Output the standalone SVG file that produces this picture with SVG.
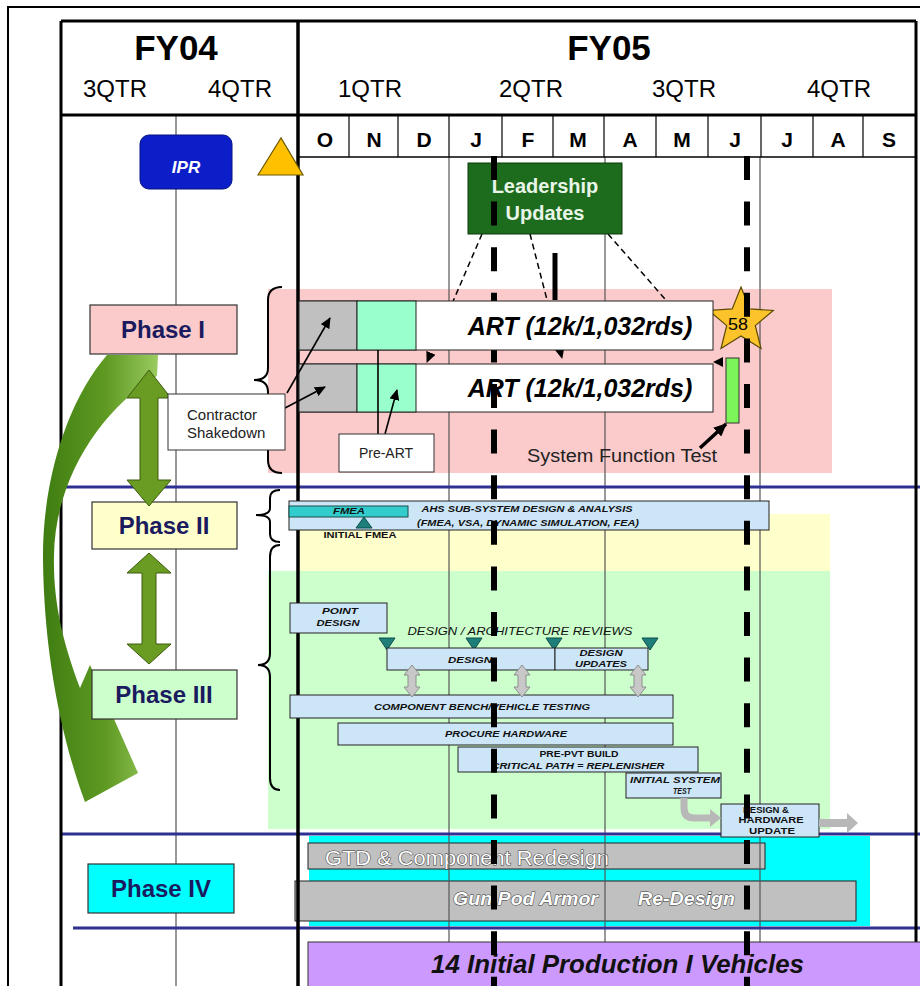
<svg xmlns="http://www.w3.org/2000/svg" width="920" height="986" viewBox="0 0 920 986">
<style>
text { font-family: "Liberation Sans", Arial, sans-serif; fill: #000; }
.fy { font-size: 35px; font-weight: bold; text-anchor: middle; }
.qtr { font-size: 24px; text-anchor: middle; }
.mon { font-size: 21px; font-weight: bold; text-anchor: middle; }
.phase { font-size: 24px; font-weight: bold; fill: #1a1a5e; text-anchor: middle; }
.tiny { font-size: 9px; font-style: italic; font-weight: bold; text-anchor: middle; fill: #111; }
.tinyu { font-size: 9px; font-weight: bold; text-anchor: middle; fill: #111; }
.art { font-size: 25px; font-weight: bold; font-style: italic; text-anchor: middle; }
.lbl { font-size: 15px; fill: #222; }
.bar { fill: #cce6f8; stroke: #222; stroke-width: 1; }
.grayb { fill: #c0c0c0; stroke: #222; stroke-width: 1; }
.thin { stroke: #555; stroke-width: 1.2; }
.thick { stroke: #000; stroke-width: 3; }
.blue { stroke: #2e3192; stroke-width: 3; }
.dash { stroke: #000; stroke-width: 6; stroke-dasharray: 24 21.6; }
.garrow { fill: #6a9c23; stroke: #3d5c10; stroke-width: 1; }
.gray2 { fill: #c8c8c8; stroke: #8e8e8e; stroke-width: 1; }
.tri { fill: #1e7f7a; stroke: #0d4d4a; stroke-width: 1; }
.emb { fill: #fff; stroke: #3a3a3a; stroke-width: 1; paint-order: stroke; }
.conn { stroke: #000; stroke-width: 1.6; fill: none; }
.dconn { stroke: #000; stroke-width: 1.5; fill: none; stroke-dasharray: 6 4; }
.brace { stroke: #000; stroke-width: 2; fill: none; }
</style>
<defs>
<marker id="ah" markerUnits="userSpaceOnUse" markerWidth="11" markerHeight="10" refX="10" refY="5" orient="auto">
<path d="M0,0 L11,5 L0,10 z" fill="#000"/>
</marker>
<marker id="ahb" markerUnits="userSpaceOnUse" markerWidth="13" markerHeight="12" refX="12" refY="6" orient="auto">
<path d="M0,0 L13,6 L0,12 z" fill="#000"/>
</marker>
<linearGradient id="cg" x1="0" y1="0" x2="1" y2="0">
<stop offset="0" stop-color="#3f7d12"/>
<stop offset="0.55" stop-color="#5f9a22"/>
<stop offset="1" stop-color="#9acb60"/>
</linearGradient>
</defs>

<rect x="0" y="0" width="920" height="986" fill="#fff"/>
<path d="M8,986 L8,7 L920,7" fill="none" stroke="#000" stroke-width="2"/>

<g id="backgrounds">
<rect x="268" y="289" width="564" height="184" fill="#fbcaca"/>
<rect x="298" y="514" width="532" height="57" fill="#ffffcc"/>
<rect x="268" y="571" width="562" height="258" fill="#ccffcc"/>
<rect x="309" y="836" width="561" height="90" fill="#00ffff"/>
</g>

<g id="gtd-redesign">
<rect x="308" y="843" width="457" height="26" class="grayb"/>
<text x="325" y="865" font-size="20" textLength="284" lengthAdjust="spacingAndGlyphs" class="emb">GTD &amp;  Component Redesign</text>
</g>
<g id="gun-pod">
<rect x="295" y="881" width="561" height="40" class="grayb"/>
<text y="905" font-size="19" font-weight="bold" font-style="italic" class="emb"><tspan x="453" textLength="145" lengthAdjust="spacingAndGlyphs">Gun Pod Armor</tspan><tspan x="638" textLength="97" lengthAdjust="spacingAndGlyphs">Re-Design</tspan></text>
</g>

<g id="grid">
<line x1="176" y1="115" x2="176" y2="986" class="thin"/>
<line x1="449" y1="157" x2="449" y2="986" class="thin"/>
<line x1="605" y1="157" x2="605" y2="986" class="thin"/>
<line x1="760" y1="157" x2="760" y2="986" class="thin"/>
<line x1="61" y1="21" x2="916" y2="21" class="thick"/>
<line x1="61" y1="115" x2="916" y2="115" class="thick"/>
<line x1="298" y1="157" x2="916" y2="157" stroke="#000" stroke-width="1.5"/>
<g stroke="#000" stroke-width="1.2">
<line x1="349" y1="115" x2="349" y2="157"/>
<line x1="398" y1="115" x2="398" y2="157"/>
<line x1="449" y1="115" x2="449" y2="157"/>
<line x1="502" y1="115" x2="502" y2="157"/>
<line x1="553" y1="115" x2="553" y2="157"/>
<line x1="604" y1="115" x2="604" y2="157"/>
<line x1="656" y1="115" x2="656" y2="157"/>
<line x1="708" y1="115" x2="708" y2="157"/>
<line x1="761" y1="115" x2="761" y2="157"/>
<line x1="813" y1="115" x2="813" y2="157"/>
<line x1="863" y1="115" x2="863" y2="157"/>
</g>
<line x1="65" y1="487" x2="920" y2="487" class="blue"/>
<line x1="61" y1="834" x2="920" y2="834" class="blue"/>
<line x1="73" y1="928" x2="920" y2="928" class="blue"/>
<line x1="61" y1="21" x2="61" y2="986" class="thick"/>
<line x1="298" y1="21" x2="298" y2="986" stroke="#000" stroke-width="3.5"/>
<line x1="916" y1="21" x2="916" y2="986" class="thick"/>
</g>

<g id="header">
<text x="176" y="60" class="fy">FY04</text>
<text x="609" y="60" class="fy">FY05</text>
<text x="115" y="97" class="qtr">3QTR</text>
<text x="240" y="97" class="qtr">4QTR</text>
<text x="370" y="97" class="qtr">1QTR</text>
<text x="531" y="97" class="qtr">2QTR</text>
<text x="684" y="97" class="qtr">3QTR</text>
<text x="839" y="97" class="qtr">4QTR</text>
<text x="325" y="147" class="mon">O</text>
<text x="374" y="147" class="mon">N</text>
<text x="424" y="147" class="mon">D</text>
<text x="476" y="147" class="mon">J</text>
<text x="528" y="147" class="mon">F</text>
<text x="578" y="147" class="mon">M</text>
<text x="630" y="147" class="mon">A</text>
<text x="682" y="147" class="mon">M</text>
<text x="735" y="147" class="mon">J</text>
<text x="787" y="147" class="mon">J</text>
<text x="838" y="147" class="mon">A</text>
<text x="889" y="147" class="mon">S</text>
</g>

<g id="braces">
<path class="brace" d="M282,287 Q268,287 268,300 L268,368 Q268,380 254,380 Q268,380 268,392 L268,460 Q268,473 282,473"/>
<path class="brace" d="M280,490 Q270,490 270,498 L270,508 Q270,515 256,515 Q270,515 270,522 L270,534 Q270,542 280,542"/>
<path class="brace" d="M280,545 Q270,545 270,557 L270,653 Q270,665 258,665 Q270,665 270,677 L270,778 Q270,790 280,790"/>
</g>

<g id="ipr">
<rect x="140" y="135" width="92" height="54" rx="9" fill="#0b1ec8" stroke="#061080"/>
<text x="186" y="173" font-size="17" font-weight="bold" font-style="italic" text-anchor="middle" style="fill:#fff">IPR</text>
</g>
<g id="ipr-milestone">
<polygon points="258,175 281,138 303,175" fill="#ffc000" stroke="#6b5a00" stroke-width="1.2"/>
</g>

<g id="cycle-arrow">
<path d="M107,355 C68,400 42,480 43,560 C44,650 60,735 85,802 L138,773 L90,665 L80,688 C62,640 53,600 54,555 C55,480 100,410 157,376 L158,355 Z" fill="url(#cg)"/>
</g>

<g id="phase1">
<rect x="90" y="305" width="147" height="49" fill="#fbcaca" stroke="#333" stroke-width="1.2"/>
<text x="163" y="338" class="phase">Phase I</text>
</g>
<g id="phase2">
<rect x="92" y="502" width="145" height="47" fill="#ffffcc" stroke="#333" stroke-width="1.2"/>
<text x="164" y="534" class="phase">Phase II</text>
</g>
<g id="phase3">
<rect x="92" y="670" width="145" height="49" fill="#ccffcc" stroke="#333" stroke-width="1.2"/>
<text x="164" y="703" class="phase">Phase III</text>
</g>
<g id="phase4">
<rect x="88" y="864" width="146" height="49" fill="#00ffff" stroke="#333" stroke-width="1.2"/>
<text x="161" y="897" class="phase">Phase IV</text>
</g>
<g id="phase-arrows">
<polygon class="garrow" points="149,370 171,398 158,398 158,480 171,480 149,506 127,480 140,480 140,398 127,398"/>
<polygon class="garrow" points="149,553 171,573 156,573 156,644 171,644 149,664 127,644 142,644 142,573 127,573"/>
</g>

<g id="connectors-back">
<line x1="482" y1="234" x2="427" y2="362" class="dconn" marker-end="url(#ah)"/>
<line x1="530" y1="234" x2="562" y2="358" class="dconn" marker-end="url(#ah)"/>
<line x1="608" y1="234" x2="665" y2="299" class="dconn"/>
</g>

<g id="leadership">
<rect x="468" y="163" width="154" height="71" fill="#1d6b1d" stroke="#0a3a0a"/>
<text x="545" y="193" font-size="20" font-weight="bold" text-anchor="middle" style="fill:#e8f5e8">Leadership</text>
<text x="545" y="220" font-size="20" font-weight="bold" text-anchor="middle" style="fill:#e8f5e8">Updates</text>
</g>

<g id="art2">
<rect x="299" y="364" width="414" height="48" fill="#fff" stroke="#222"/>
<rect x="299" y="364" width="58" height="48" fill="#c0c0c0" stroke="#222"/>
<rect x="357" y="364" width="59" height="48" fill="#99ffcc" stroke="#222"/>
<text x="580" y="397" class="art">ART (12k/1,032rds)</text>
</g>
<g id="sft-bar">
<rect x="726" y="358" width="13" height="65" fill="#7cf55a" stroke="#333"/>
</g>
<g id="star-58">
<polygon points="741,287 749.8,308.9 773.3,310.5 755.3,325.6 761,348.5 741,336 721,348.5 726.7,325.6 708.7,310.5 732.2,308.9" fill="#fcc42a" stroke="#5a4a00" stroke-width="1.2"/>
<text x="738" y="330" font-size="17" text-anchor="middle" textLength="20" lengthAdjust="spacingAndGlyphs">58</text>
</g>

<g id="ahs-design">
<rect x="289" y="501" width="480" height="29" class="bar"/>
<rect x="289" y="506" width="119" height="11" fill="#33cccc" stroke="#1a4a4a"/>
<text x="349" y="514" class="tiny" textLength="32" lengthAdjust="spacingAndGlyphs">FMEA</text>
<polygon class="tri" points="356,528 364,517 372,528"/>
<text x="360" y="538" class="tinyu" textLength="73" lengthAdjust="spacingAndGlyphs">INITIAL FMEA</text>
<text x="527" y="512" class="tiny" textLength="211" lengthAdjust="spacingAndGlyphs">AHS SUB-SYSTEM DESIGN &amp; ANALYSIS</text>
<text x="528" y="526" class="tiny" textLength="222" lengthAdjust="spacingAndGlyphs">(FMEA, VSA, DYNAMIC SIMULATION, FEA)</text>
</g>

<g id="point-design">
<rect x="290" y="603" width="97" height="30" class="bar"/>
<text x="340" y="614" class="tiny" textLength="36" lengthAdjust="spacingAndGlyphs">POINT</text>
<text x="338" y="626" class="tiny" textLength="43" lengthAdjust="spacingAndGlyphs">DESIGN</text>
</g>
<g id="reviews">
<text x="520" y="635" class="tiny" style="font-size:11px;font-weight:normal" textLength="225" lengthAdjust="spacingAndGlyphs">DESIGN / ARCHITECTURE REVIEWS</text>
<polygon class="tri" points="379,638 395,638 387,650"/>
<polygon class="tri" points="466,638 482,638 474,650"/>
<polygon class="tri" points="546,638 562,638 554,650"/>
<polygon class="tri" points="642,638 658,638 650,650"/>
</g>
<g id="design">
<rect x="387" y="648" width="168" height="22" class="bar"/>
<text x="470" y="663" class="tiny" textLength="44" lengthAdjust="spacingAndGlyphs">DESIGN</text>
</g>
<g id="design-updates">
<rect x="555" y="648" width="93" height="22" class="bar"/>
<text x="601" y="656" class="tiny" textLength="43" lengthAdjust="spacingAndGlyphs">DESIGN</text>
<text x="601" y="667" class="tiny" textLength="52" lengthAdjust="spacingAndGlyphs">UPDATES</text>
</g>
<g id="component-testing">
<rect x="290" y="695" width="383" height="23" class="bar"/>
<text x="482" y="710" class="tiny" textLength="216" lengthAdjust="spacingAndGlyphs">COMPONENT BENCH/VEHICLE TESTING</text>
</g>
<g id="procure-hardware">
<rect x="338" y="723" width="335" height="22" class="bar"/>
<text x="506" y="737" class="tiny" textLength="122" lengthAdjust="spacingAndGlyphs">PROCURE HARDWARE</text>
</g>
<g id="pre-pvt-build">
<rect x="458" y="747" width="240" height="25" class="bar"/>
<text x="579" y="757" class="tinyu" textLength="79" lengthAdjust="spacingAndGlyphs">PRE-PVT BUILD</text>
<text x="578" y="769" class="tiny" textLength="173" lengthAdjust="spacingAndGlyphs">CRITICAL PATH = REPLENISHER</text>
</g>
<g id="initial-system-test">
<rect x="626" y="773" width="95" height="25" class="bar"/>
<text x="675" y="783" class="tiny" textLength="90" lengthAdjust="spacingAndGlyphs">INITIAL SYSTEM</text>
<text x="682" y="794" class="tiny" textLength="18" lengthAdjust="spacingAndGlyphs">TEST</text>
</g>
<g id="design-hardware-update">
<rect x="721" y="804" width="98" height="33" class="bar"/>
<text x="766" y="813" class="tinyu" textLength="46" lengthAdjust="spacingAndGlyphs">DESIGN &amp;</text>
<text x="771" y="823" class="tinyu" textLength="65" lengthAdjust="spacingAndGlyphs">HARDWARE</text>
<text x="772" y="834" class="tinyu" textLength="46" lengthAdjust="spacingAndGlyphs">UPDATE</text>
</g>

<g id="production">
<rect x="308" y="942" width="620" height="50" fill="#cc99ff" stroke="#333"/>
<text x="431" y="973" font-size="25" font-weight="bold" font-style="italic" textLength="373" lengthAdjust="spacingAndGlyphs" style="fill:#111">14 Initial Production I Vehicles</text>
</g>

<g id="status-lines">
<line x1="494" y1="156" x2="494" y2="990" class="dash"/>
<line x1="747" y1="156" x2="747" y2="990" class="dash"/>
<line x1="555" y1="253" x2="555" y2="300" stroke="#000" stroke-width="5"/>
</g>

<g id="art1">
<rect x="299" y="301" width="414" height="49" fill="#fff" stroke="#222"/>
<rect x="299" y="301" width="58" height="49" fill="#c0c0c0" stroke="#222"/>
<rect x="357" y="301" width="59" height="49" fill="#99ffcc" stroke="#222"/>
<text x="580" y="335" class="art">ART (12k/1,032rds)</text>
</g>

<g id="connectors">
<line x1="287" y1="393" x2="330" y2="318" class="conn" marker-end="url(#ah)"/>
<line x1="285" y1="408" x2="325" y2="387" class="conn" marker-end="url(#ah)"/>
<line x1="378" y1="434" x2="378" y2="350" class="conn"/>
<line x1="385" y1="434" x2="397" y2="390" class="conn" marker-end="url(#ah)"/>
<line x1="700" y1="448" x2="726" y2="424" stroke="#000" stroke-width="3.5" marker-end="url(#ahb)"/>
<polygon points="713,362 723,357 723,367" fill="#000"/>
<polygon class="gray2" points="412,665 420,675 416,675 416,687 420,687 412,697 404,687 408,687 408,675 404,675"/>
<polygon class="gray2" points="522,665 530,675 526,675 526,687 530,687 522,697 514,687 518,687 518,675 514,675"/>
<polygon class="gray2" points="638,665 646,675 642,675 642,687 646,687 638,697 630,687 634,687 634,675 630,675"/>
<path d="M684,798 L684,808 Q684,818 694,818 L711,818" fill="none" stroke="#b8b8b8" stroke-width="7"/>
<polygon points="710,809 721,818 710,827" fill="#b8b8b8"/>
<line x1="819" y1="823" x2="848" y2="823" stroke="#b8b8b8" stroke-width="8"/>
<polygon points="847,813 858,823 847,833" fill="#b8b8b8"/>
</g>

<g id="contractor-shakedown">
<rect x="168" y="394" width="117" height="56" fill="#fff" stroke="#333"/>
<text x="187" y="420" class="lbl">Contractor</text>
<text x="187" y="438" class="lbl">Shakedown</text>
</g>
<g id="pre-art">
<rect x="339" y="434" width="95" height="38" fill="#fff" stroke="#333"/>
<text x="386" y="458" font-size="14" text-anchor="middle" style="fill:#222">Pre-ART</text>
</g>
<g id="sft-label">
<text x="527" y="462" font-size="18" textLength="190" lengthAdjust="spacingAndGlyphs" style="fill:#222">System Function Test</text>
</g>
</svg>
